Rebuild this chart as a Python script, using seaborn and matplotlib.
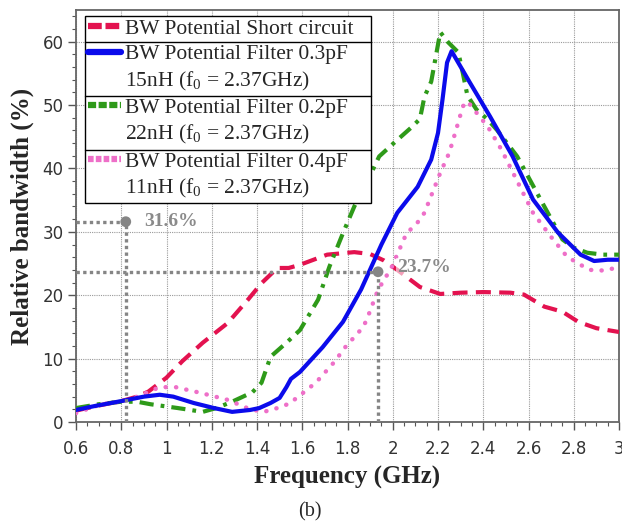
import numpy as np
import pandas as pd
import matplotlib
matplotlib.use("Agg")
import matplotlib.pyplot as plt
import seaborn as sns
from matplotlib.lines import Line2D
from matplotlib.ticker import MultipleLocator, FuncFormatter

# ---------------- data ----------------
short_x = [0.6, 0.7, 0.8, 0.87, 0.92, 1.0, 1.07, 1.16, 1.27, 1.36, 1.42, 1.49, 1.54, 1.59,
           1.71, 1.83, 1.90, 1.96, 2.02, 2.12, 2.21, 2.30, 2.40, 2.52, 2.58, 2.67, 2.75,
           2.82, 2.90, 3.0]
short_y = [1.8, 2.6, 3.3, 4.0, 4.8, 7.0, 9.6, 12.5, 15.6, 19.3, 21.9, 24.3, 24.3, 24.8,
           26.4, 26.8, 26.5, 25.5, 24.0, 21.3, 20.2, 20.4, 20.5, 20.4, 20.1, 18.2, 17.4,
           15.8, 14.8, 14.2]

f03_x = [0.6, 0.68, 0.8, 0.9, 0.97, 1.03, 1.12, 1.21, 1.29, 1.37, 1.41, 1.46, 1.50, 1.53,
         1.55, 1.59, 1.69, 1.78, 1.86, 1.95, 2.02, 2.11, 2.17, 2.20, 2.22, 2.24, 2.26,
         2.34, 2.43, 2.53, 2.62, 2.73, 2.83, 2.89, 2.95, 3.0]
f03_y = [1.9, 2.5, 3.3, 4.0, 4.3, 4.0, 3.0, 2.2, 1.6, 1.9, 2.2, 3.0, 3.8, 5.5,
         6.8, 7.9, 11.8, 15.8, 20.9, 28.0, 33.0, 37.1, 41.4, 45.6, 50.9, 56.7, 58.5,
         53.6, 48.2, 41.9, 35.1, 29.9, 26.4, 25.4, 25.6, 25.6]

f02_x = [0.6, 0.7, 0.8, 0.87, 0.93, 1.05, 1.16, 1.22, 1.29, 1.38, 1.42, 1.46, 1.53, 1.59,
         1.67, 1.72, 1.78, 1.83, 1.88, 1.94, 2.02, 2.08, 2.12, 2.14, 2.17, 2.21, 2.245,
         2.29, 2.31, 2.33, 2.37, 2.42, 2.46, 2.55, 2.67, 2.75, 2.80, 2.86, 2.93, 3.0]
f02_y = [2.2, 2.8, 3.2, 3.2, 2.8, 2.2, 1.6, 2.2, 3.2, 4.7, 6.2, 10.3, 12.5, 14.5,
         19.3, 24.5, 29.8, 34.0, 37.4, 41.9, 44.5, 46.4, 47.8, 51.3, 53.7, 61.5, 59.9,
         58.3, 55.0, 51.5, 49.3, 47.7, 46.1, 41.9, 34.0, 28.8, 27.5, 26.7, 26.4, 26.4]

f04_x = [0.6, 0.71, 0.8, 0.87, 0.97, 1.04, 1.15, 1.27, 1.37, 1.43, 1.49, 1.55, 1.58, 1.62,
         1.67, 1.71, 1.75, 1.78, 1.82, 1.87, 1.89, 1.93, 1.96, 1.99, 2.06, 2.11, 2.14,
         2.18, 2.21, 2.25, 2.28, 2.31, 2.33, 2.37, 2.42, 2.48, 2.55, 2.62, 2.70, 2.77,
         2.83, 2.87, 2.93, 3.0]
f04_y = [1.4, 2.8, 3.2, 4.0, 5.5, 5.5, 4.6, 3.5, 2.0, 1.6, 2.2, 3.0, 4.0, 5.0,
         6.6, 8.2, 9.8, 11.4, 13.0, 15.0, 16.6, 20.4, 22.4, 24.0, 29.7, 31.5, 33.0,
         36.6, 39.3, 42.5, 46.1, 49.8, 50.6, 48.8, 46.6, 43.0, 38.0, 33.0, 29.2, 26.1,
         24.8, 24.0, 23.9, 24.4]

labels = ["BW Potential Short circuit",
          "BW Potential Filter 0.3pF", "15nH (f$_0$ = 2.37GHz)",
          "BW Potential Filter 0.2pF", "22nH (f$_0$ = 2.37GHz)",
          "BW Potential Filter 0.4pF", "11nH (f$_0$ = 2.37GHz)"]

annot_x = [0.82, 1.935]
annot_y = [31.6, 23.7]
annot_txt = ["31.6%", "23.7%"]

x_ticks = [0.6, 0.8, 1.0, 1.2, 1.4, 1.6, 1.8, 2.0, 2.2, 2.4, 2.6, 2.8, 3.0]
y_ticks = [0, 10, 20, 30, 40, 50, 60]

# ---------------- style ----------------
sns.set_style("white")
plt.rcParams["font.family"] = ["DejaVu Sans"]
plt.rcParams["mathtext.fontset"] = "custom"
plt.rcParams["mathtext.rm"] = "Liberation Serif"
plt.rcParams["mathtext.it"] = "Liberation Serif:italic"

RED = "#E3124F"
BLUE = "#0B0BEB"
GREEN = "#2E9A19"
PINK = "#EE6FC8"
GRAY = "#858585"

fig = plt.figure(figsize=(6.22, 5.24), dpi=100)
ax = fig.add_axes([76 / 622, 1 - 422 / 524, (619 - 76) / 622, (422 - 10) / 524])

sns.lineplot(x=short_x, y=short_y, ax=ax, color=RED, lw=3.0, sort=False,
             linestyle=(0, (3.6, 2.0)), zorder=3)
sns.lineplot(x=f02_x, y=f02_y, ax=ax, color=GREEN, lw=3.0, sort=False,
             linestyle=(0, (3.4, 1.7, 0.9, 1.7)), zorder=4)
sns.lineplot(x=f04_x, y=f04_y, ax=ax, color=PINK, lw=3.2, sort=False,
             linestyle=(0, (0.05, 2.3)), dash_capstyle="round", zorder=4)
sns.lineplot(x=f03_x, y=f03_y, ax=ax, color=BLUE, lw=3.0, sort=False, zorder=5)

# annotations
ax.hlines(annot_y, x_ticks[0], annot_x, colors=GRAY, lw=2.4,
          linestyles=[(0, (1.0, 1.0))], zorder=6)
ax.vlines(annot_x, y_ticks[0], annot_y, colors=GRAY, lw=2.4,
          linestyles=[(0, (1.0, 1.0))], zorder=6)
sns.scatterplot(x=annot_x, y=annot_y, ax=ax, color=GRAY, s=60, edgecolor="none", zorder=7)
ax.text(annot_x[0] + 0.08, annot_y[0], annot_txt[0], family="Liberation Serif",
        fontweight="bold", fontsize=14, color="#8a8a8a", va="center", ha="left", zorder=8)
ax.text(annot_x[1] + 0.085, annot_y[1] + 0.6, annot_txt[1], family="Liberation Serif",
        fontweight="bold", fontsize=14, color="#8a8a8a", va="center", ha="left", zorder=8,
        bbox=dict(facecolor="white", edgecolor="none", alpha=0.6, pad=1))

# axes
ax.set_xlim(x_ticks[0], x_ticks[-1])
ax.set_ylim(0, 65)
ax.set_xticks(x_ticks)
ax.set_yticks(y_ticks)
ax.xaxis.set_minor_locator(MultipleLocator(0.05))
ax.yaxis.set_minor_locator(MultipleLocator(2))
ax.xaxis.set_major_formatter(FuncFormatter(lambda v, p: f"{v:g}"))
ax.tick_params(axis="both", which="major", direction="out", length=6, width=1,
               color="#555555", labelsize=12, labelcolor="#333333",
               bottom=True, left=True)
ax.tick_params(axis="x", which="major", pad=7)
ax.tick_params(axis="y", which="major", pad=3)
ax.tick_params(axis="both", which="minor", direction="out", length=3, width=0.8,
               color="#555555", bottom=True, left=True)
ax.grid(True, which="major", color="#9a9a9a", linestyle=(0, (1, 1)), lw=0.8)
for s in ax.spines.values():
    s.set_color("#666666")
    s.set_linewidth(1.3)

ax.set_xlabel("Frequency (GHz)", family="Liberation Serif", fontweight="bold",
              fontsize=18, labelpad=6)
ax.set_ylabel("Relative bandwidth (%)", family="Liberation Serif", fontweight="bold",
              fontsize=18, labelpad=6)

# legend
blank = Line2D([], [], color="none", lw=0)
handles = [
    Line2D([], [], color=RED, lw=4.5, linestyle=(0, (2.2, 0.6))),
    Line2D([], [], color=BLUE, lw=4.5),
    blank,
    Line2D([], [], color=GREEN, lw=4.5, linestyle=(0, (1.3, 0.4))),
    blank,
    Line2D([], [], color=PINK, lw=4.5, linestyle=(0, (0.9, 0.35))),
    blank,
]
leg = ax.legend(handles, labels, loc="upper left",
                bbox_to_anchor=(9 / 543, (422 - 16) / 412, (371 - 85) / 543, 0.0),
                mode="expand", borderaxespad=0, frameon=True, fancybox=False,
                edgecolor="black", framealpha=1, handlelength=1.55, handletextpad=0.2,
                borderpad=0.12, labelspacing=0.25,
                prop={"family": "Liberation Serif", "size": 15.5})
leg.get_frame().set_linewidth(1.0)
leg.set_zorder(10)

fig.text(310 / 622, 1 - 512 / 524, "(b)", family="Liberation Serif", fontsize=14.5,
         ha="center", va="center")

# separators between legend groups
fig.canvas.draw()
r = fig.canvas.get_renderer()
fb = leg.get_frame().get_window_extent(r)
texts = leg.get_texts()
inv = fig.transFigure.inverted()
for i in (1, 3, 5):
    b_prev = texts[i - 1].get_window_extent(r)
    b_next = texts[i].get_window_extent(r)
    ym = (b_prev.y0 + b_next.y1) / 2
    (x0, y0) = inv.transform((fb.x0, ym))
    (x1, _) = inv.transform((fb.x1, ym))
    fig.add_artist(Line2D([x0, x1], [y0, y0], transform=fig.transFigure,
                          color="black", lw=1.0, zorder=11))

fig.savefig("out.png", dpi=100)
